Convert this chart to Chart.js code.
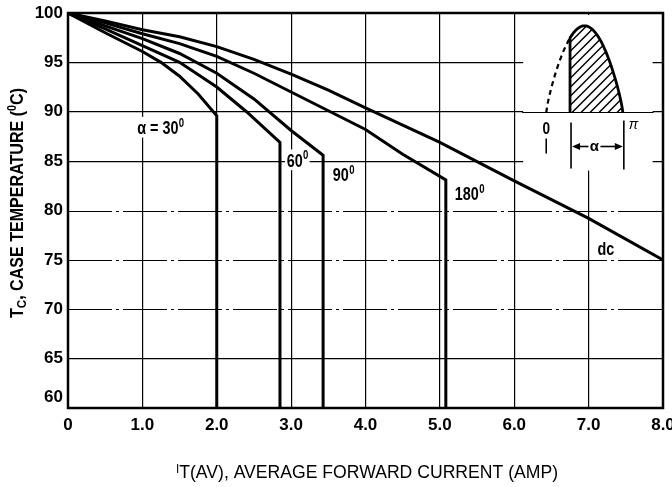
<!DOCTYPE html>
<html><head><meta charset="utf-8">
<script src="https://cdn.jsdelivr.net/npm/chart.js@4.4.1/dist/chart.umd.min.js"></script>
<style>html,body{margin:0;padding:0;background:#fff;}#wrap{width:672px;height:487px;}</style>
</head><body><div id="wrap"><canvas id="c" width="672" height="487"></canvas></div>
<script>
// ---- data ----
const xTicks = [0, 1, 2, 3, 4, 5, 6, 7, 8];
const yTicks = [60, 65, 70, 75, 80, 85, 90, 95, 100];
const x30 = [0, 0.5, 1.0, 1.25, 1.5, 1.75, 2.0, 2.0];
const y30 = [100, 98.0, 96.1, 95.0, 93.6, 91.8, 89.6, 60];
const x60 = [0, 0.5, 1.0, 1.5, 2.0, 2.4, 2.85, 2.85];
const y60 = [100, 98.4, 96.7, 95.0, 92.5, 90.0, 86.9, 60];
const x90 = [0, 0.5, 1.0, 1.5, 2.0, 2.5, 3.0, 3.43, 3.43];
const y90 = [100, 98.7, 97.4, 95.9, 93.9, 91.3, 88.1, 85.6, 60];
const x180 = [0, 0.5, 1.0, 1.5, 2.0, 2.5, 3.0, 3.5, 4.0, 4.5, 5.08, 5.08];
const y180 = [100, 99.0, 97.9, 96.9, 95.6, 93.9, 92.0, 90.1, 88.2, 85.7, 83.1, 60];
const xdc = [0, 0.5, 1.0, 1.5, 2.0, 2.5, 3.0, 3.5, 4.0, 5.0, 6.0, 7.0, 8.0];
const ydc = [100, 99.2, 98.3, 97.6, 96.6, 95.3, 93.8, 92.2, 90.4, 86.9, 83.0, 79.2, 75.0];
const seriesNames = ['α = 30', '60', '90', '180', 'dc'];

const FW = "'Liberation Sans','Arimo','DejaVu Sans',sans-serif";
const dashedY = [70, 75, 80];

function pts(xs, ys) { return xs.map((x, i) => ({ x: x, y: ys[i] })); }
const allX = [x30, x60, x90, x180, xdc];
const allY = [y30, y60, y90, y180, ydc];
const datasets = allX.map((xs, i) => ({
  label: seriesNames[i], data: pts(xs, allY[i]),
  borderColor: '#000', borderWidth: 3, pointRadius: 0, tension: 0,
  fill: false, borderJoinStyle: 'miter', borderCapStyle: 'butt'
}));

// label anchors (left x, baseline y in data units); superscript "0"
const curveLabels = [
  { t: 'α = 30', sup: '0', x: 0.93, y: 87.75 },
  { t: '60', sup: '0', x: 2.94, y: 84.45 },
  { t: '90', sup: '0', x: 3.56, y: 82.95 },
  { t: '180', sup: '0', x: 5.20, y: 81.05 },
  { t: 'dc', sup: '', x: 7.12, y: 75.5 }
];

const SQ = 0.8; // horizontal condensing of the lettering

function drawSupText(ctx, t, sup, x, y, size, bg) {
  ctx.save();
  ctx.translate(x, y); ctx.scale(SQ, 1);
  ctx.font = 'bold ' + size + 'px ' + FW;
  const w1 = ctx.measureText(t).width;
  ctx.font = 'bold ' + Math.round(size * 0.68) + 'px ' + FW;
  const w2 = sup ? ctx.measureText(sup).width : 0;
  if (bg) {
    ctx.fillStyle = '#fff';
    ctx.fillRect(-2, -size * 0.95, w1 + w2 + 4, size * 1.15);
  }
  ctx.fillStyle = '#000';
  ctx.textAlign = 'left'; ctx.textBaseline = 'alphabetic';
  ctx.font = 'bold ' + size + 'px ' + FW;
  ctx.fillText(t, 0, 0);
  if (sup) {
    ctx.font = 'bold ' + Math.round(size * 0.68) + 'px ' + FW;
    ctx.fillText(sup, w1 + 0.5, -size * 0.4);
  }
  ctx.restore();
}

const INSET = { box: [6.12, 7.86, 84.05, 100], x0: 6.43, xa: 6.75, xpi: 7.46, base: 90, amp: 8.7 };

function drawInset(chart) {
  const ctx = chart.ctx, xs = chart.scales.x, ys = chart.scales.y;
  const X = v => xs.getPixelForValue(v), Y = v => ys.getPixelForValue(v);
  const [bx0, bx1, by0, by1] = INSET.box;
  ctx.fillStyle = '#fff';
  ctx.fillRect(X(bx0), Y(by1) + 2, X(bx1) - X(bx0), Y(by0) - Y(by1) - 2);
  const yb = Math.round(Y(INSET.base)) + 0.5;
  ctx.strokeStyle = '#000'; ctx.lineWidth = 1.2;
  ctx.beginPath(); ctx.moveTo(X(bx0) - 1, yb); ctx.lineTo(X(bx1) + 1, yb); ctx.stroke();
  const p0 = X(INSET.x0), pa = X(INSET.xa), pp = X(INSET.xpi);
  const amp = yb - Y(INSET.base + INSET.amp);
  const cv = px => {
    const t = (px - p0) / (pp - p0);
    return yb - amp * Math.pow(Math.sin(Math.PI * t), 0.8);
  };
  // dashed lead-in
  ctx.lineWidth = 2.2; ctx.setLineDash([5, 4]);
  ctx.beginPath(); ctx.moveTo(p0, cv(p0));
  for (let p = p0 + 1; p < pa; p += 1) ctx.lineTo(p, cv(p));
  ctx.lineTo(pa, cv(pa)); ctx.stroke(); ctx.setLineDash([]);
  // shaded region
  const shape = () => {
    ctx.beginPath(); ctx.moveTo(pa, yb);
    for (let p = pa; p < pp; p += 1) ctx.lineTo(p, cv(p));
    ctx.lineTo(pp, yb);
  };
  ctx.save(); shape(); ctx.closePath(); ctx.clip();
  ctx.lineWidth = 1.5;
  for (let k = -120; k < 120; k += 9) {
    ctx.beginPath(); ctx.moveTo(pa + k, yb + 5); ctx.lineTo(pa + k + 110, yb - 105); ctx.stroke();
  }
  ctx.restore();
  ctx.lineWidth = 2.8; shape(); ctx.stroke();
  // markers
  ctx.lineWidth = 1.6;
  const vl = (x, a, b) => { ctx.beginPath(); ctx.moveTo(x, yb + a); ctx.lineTo(x, yb + b); ctx.stroke(); };
  vl(p0, 26, 41); vl(pa + 1, 10, 56); vl(pp + 1, 8, 57);
  ctx.fillStyle = '#000'; ctx.textBaseline = 'middle';
  ctx.save(); ctx.translate(p0, yb + 17); ctx.scale(SQ, 1);
  ctx.textAlign = 'center'; ctx.font = 'bold 17px ' + FW; ctx.fillText('0', 0, 0);
  ctx.restore();
  ctx.font = 'italic 14px ' + FW; ctx.textAlign = 'left';
  ctx.fillText('π', pp + 6, yb + 13);
  const ay = yb + 34, mid = (pa + pp) / 2 - 2;
  ctx.font = 'bold 15px ' + FW; ctx.textAlign = 'center';
  ctx.fillText('α', mid, ay);
  ctx.lineWidth = 1.6;
  ctx.beginPath(); ctx.moveTo(pa + 8, ay); ctx.lineTo(mid - 6, ay); ctx.stroke();
  ctx.beginPath(); ctx.moveTo(mid + 6, ay); ctx.lineTo(pp - 7, ay); ctx.stroke();
  ctx.beginPath(); ctx.moveTo(pa + 2, ay); ctx.lineTo(pa + 10, ay - 3.5); ctx.lineTo(pa + 10, ay + 3.5); ctx.closePath(); ctx.fill();
  ctx.beginPath(); ctx.moveTo(pp, ay); ctx.lineTo(pp - 8, ay - 3.5); ctx.lineTo(pp - 8, ay + 3.5); ctx.closePath(); ctx.fill();
}

function drawSegs(ctx, segs, targetW) {
  // segs: [text, size, dy, weight]
  let total = 0;
  segs.forEach(s => { ctx.font = s[3] + ' ' + s[1] + 'px ' + FW; s.w = ctx.measureText(s[0]).width; total += s.w; });
  const k = targetW / total;
  ctx.scale(k, 1);
  let x = -total / 2;
  ctx.textAlign = 'left'; ctx.textBaseline = 'alphabetic'; ctx.fillStyle = '#000';
  segs.forEach(s => { ctx.font = s[3] + ' ' + s[1] + 'px ' + FW; ctx.fillText(s[0], x, s[2]); x += s.w; });
}

const extras = {
  id: 'extras',
  beforeDatasetsDraw(chart) {
    const ctx = chart.ctx, a = chart.chartArea, ys = chart.scales.y;
    ctx.save();
    ctx.strokeStyle = '#000'; ctx.lineWidth = 1.2; ctx.setLineDash([44, 4, 3, 4]);
    dashedY.forEach(v => {
      const py = Math.round(ys.getPixelForValue(v)) + 0.5;
      ctx.beginPath(); ctx.moveTo(a.left, py); ctx.lineTo(a.right, py); ctx.stroke();
    });
    ctx.setLineDash([]);
    drawInset(chart);
    ctx.restore();
  },
  afterDatasetsDraw(chart) {
    const ctx = chart.ctx, a = chart.chartArea, xs = chart.scales.x, ys = chart.scales.y;
    ctx.save();
    ctx.strokeStyle = '#000'; ctx.lineWidth = 2.5;
    ctx.strokeRect(a.left, a.top, a.right - a.left, a.bottom - a.top);
    curveLabels.forEach(l => {
      drawSupText(ctx, l.t, l.sup, xs.getPixelForValue(l.x), ys.getPixelForValue(l.y), 18, l.t !== 'dc');
    });
    // y title
    ctx.save();
    ctx.translate(23, 203); ctx.rotate(-Math.PI / 2);
    drawSegs(ctx, [['T', 18, 0, 'bold'], ['C', 13, 3, 'bold'], [', CASE TEMPERATURE (', 18, 0, 'bold'], ['0', 12, -7, 'bold'], ['C)', 18, 0, 'bold']], 230);
    ctx.restore();
    // x title
    ctx.save();
    ctx.translate(367, 478);
    drawSegs(ctx, [['I', 12, -5, 'normal'], ['T(AV), AVERAGE FORWARD CURRENT (AMP)', 18, 0, 'normal']], 382);
    ctx.restore();
    ctx.restore();
  }
};

new Chart(document.getElementById('c'), {
  type: 'scatter',
  data: { datasets: datasets },
  options: {
    responsive: false, devicePixelRatio: 1, animation: false,
    layout: { padding: { left: 0, right: 9, top: 13, bottom: 0 } },
    plugins: { legend: { display: false }, tooltip: { enabled: false } },
    elements: { line: { borderWidth: 3 } },
    datasets: { scatter: { showLine: true } },
    scales: {
      x: {
        type: 'linear', min: 0, max: 8,
        afterBuildTicks: s => { s.ticks = xTicks.map(v => ({ value: v })); },
        afterFit: s => { s.height = 79; s.paddingLeft = 0; s.paddingRight = 0; },
        grid: { color: '#000', lineWidth: 1.2, drawTicks: false },
        border: { display: false },
        ticks: { color: '#000', padding: 7, font: { family: FW, size: 17, weight: 'bold' },
          maxRotation: 0, autoSkip: false,
          callback: v => v === 0 ? '0' : v.toFixed(1) }
      },
      y: {
        type: 'linear', min: 60, max: 100,
        afterBuildTicks: s => { s.ticks = yTicks.map(v => ({ value: v })); },
        afterFit: s => { s.width = 68; s.paddingTop = 0; s.paddingBottom = 0; },
        grid: { color: c => (c.tick && dashedY.includes(c.tick.value)) ? 'rgba(0,0,0,0)' : '#000', lineWidth: 1.2, drawTicks: false },
        border: { display: false },
        ticks: { color: '#000', padding: 5, font: { family: FW, size: 17, weight: 'bold' },
          callback: v => v === 60 ? ['60', ''] : String(v) }
      }
    }
  },
  plugins: [extras]
});
</script></body></html>
